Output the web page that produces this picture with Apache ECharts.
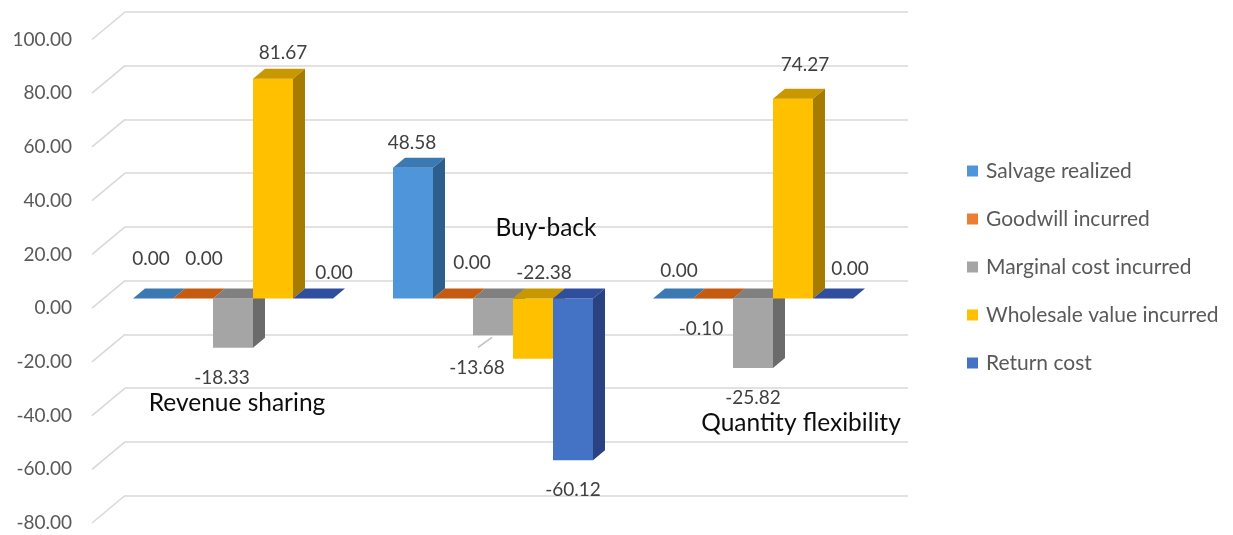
<!DOCTYPE html>
<html>
<head>
<meta charset="utf-8">
<title>Contract comparison</title>
<script src="https://cdn.jsdelivr.net/npm/echarts@6/dist/echarts.min.js"></script>
<style>
  html, body { margin: 0; padding: 0; background: #ffffff; }
  #chart { width: 1233px; height: 535px; }
</style>
</head>
<body>
<div id="chart"></div>
<script>
// ---- data ----
const categories = ['Revenue sharing', 'Buy-back', 'Quantity flexibility'];
const seriesNames = ['Salvage realized', 'Goodwill incurred', 'Marginal cost incurred', 'Wholesale value incurred', 'Return cost'];
const salvageRealized = [0.00, 48.58, 0.00];
const goodwillIncurred = [0.00, 0.00, -0.10];
const marginalCostIncurred = [-18.33, -13.68, -25.82];
const wholesaleValueIncurred = [81.67, -22.38, 74.27];
const returnCost = [0.00, -60.12, 0.00];
const yTicks = [-80, -60, -40, -20, 0, 20, 40, 60, 80, 100];

const seriesValues = [salvageRealized, goodwillIncurred, marginalCostIncurred, wholesaleValueIncurred, returnCost];

// ---- styling ----
const FONT = 'Lato, "Open Sans", sans-serif';
const faces = [
  { front: '#4E96D9', top: '#3B79B3', side: '#2E5F8C' },
  { front: '#ED7D31', top: '#C55A11', side: '#9E4A12' },
  { front: '#A5A5A5', top: '#808080', side: '#6B6B6B' },
  { front: '#FFC000', top: '#C99700', side: '#A67C00' },
  { front: '#4472C4', top: '#2F4E9E', side: '#2B4282' }
];
const BAR_SHARE = 40 / 260;   // width of one bar relative to the category band
const DEPTH_X = 0.3;          // bar depth, in bar widths
const DEPTH_Y = -0.25;
const WALL_DX = 33, WALL_DY = -27.5; // floor depth from the front plane to the back wall

// hand-placed label offsets (px) for the value labels, by category then series
const labelNudges = [
  [{ dx: -8, dy: -14 }, { dx: 5, dy: -14 }, { dx: -11, dy: 0 }, { dx: 4, dy: 0 }, { dx: 15, dy: 0 }],
  [{ dx: -7, dy: 1 }, { dx: 13, dy: -10 }, { dx: -16, dy: 3, leader: true }, { dx: 5, dy: 0, above: true }, { dx: 0, dy: 0 }],
  [{ dx: 0, dy: -2 }, { dx: -12, dy: 0 }, { dx: 0, dy: 0 }, { dx: 6, dy: -8 }, { dx: 11, dy: -4 }]
];
// category titles sit inside the plot, offset from each category centre / zero line
const categoryNudges = [{ dx: 4, dy: 105 }, { dx: 53, dy: -70 }, { dx: 48, dy: 125 }];

function barGeometry(api, cat, k, v) {
  const band = api.size([1, 0])[0];
  const w = band * BAR_SHARE;
  const base = api.coord([cat, 0]);
  const tip = api.coord([cat, v]);
  const x = base[0] - 2.5 * w + k * w;
  return {
    x, w,
    yUp: Math.min(base[1], tip[1]),
    yDn: Math.max(base[1], tip[1]),
    dx: w * DEPTH_X,
    dy: w * DEPTH_Y
  };
}

function barRenderer(k) {
  const c = faces[k];
  return function (params, api) {
    const g = barGeometry(api, api.value(0), k, api.value(1));
    const { x, w, yUp, yDn, dx, dy } = g;
    return {
      type: 'group',
      children: [
        { type: 'rect', shape: { x, y: yUp, width: w, height: yDn - yUp }, style: { fill: c.front } },
        { type: 'polygon', shape: { points: [[x, yUp], [x + w, yUp], [x + w + dx, yUp + dy], [x + dx, yUp + dy]] }, style: { fill: c.top } },
        { type: 'polygon', shape: { points: [[x + w, yUp], [x + w + dx, yUp + dy], [x + w + dx, yDn + dy], [x + w, yDn]] }, style: { fill: c.side } }
      ]
    };
  };
}

const barSeries = seriesNames.map((name, k) => ({
  name,
  type: 'custom',
  xAxisIndex: 0,
  yAxisIndex: 0,
  z: 3,
  itemStyle: { color: faces[k].front },
  encode: { x: 0, y: 1 },
  data: seriesValues[k].map((v, i) => [i, v]),
  renderItem: barRenderer(k)
}));

// value labels, one item per bar
const labelData = [];
seriesValues.forEach((vals, k) => vals.forEach((v, i) => labelData.push([i, v, k])));

const valueLabelSeries = {
  type: 'custom',
  name: 'value labels',
  xAxisIndex: 0,
  yAxisIndex: 0,
  z: 10,
  silent: true,
  encode: { x: 0, y: 1 },
  data: labelData,
  renderItem: function (params, api) {
    const cat = api.value(0), v = api.value(1), k = api.value(2);
    const g = barGeometry(api, cat, k, v);
    const n = labelNudges[cat][k] || {};
    const above = n.above !== undefined ? n.above : v >= 0;
    let lx = g.x + g.w / 2, ly;
    if (above) { lx += g.dx / 2; ly = g.yUp - 26; } else { ly = g.yDn + 30; }
    lx += n.dx || 0; ly += n.dy || 0;
    const children = [{
      type: 'text', x: lx, y: ly,
      style: { text: v.toFixed(2), align: 'center', verticalAlign: 'middle', fill: '#404040', fontSize: 19, fontFamily: FONT }
    }];
    if (n.leader) {
      children.push({
        type: 'line',
        shape: { x1: lx + 1, y1: ly - 21, x2: g.x + g.w / 2 - 1, y2: g.yDn + 2 },
        style: { stroke: '#BFBFBF', lineWidth: 1.5 }
      });
    }
    return { type: 'group', children };
  }
};

const categoryLabelSeries = {
  type: 'custom',
  name: 'category titles',
  xAxisIndex: 0,
  yAxisIndex: 0,
  z: 10,
  silent: true,
  encode: { x: 0, y: 1 },
  data: categories.map((c, i) => [i, 0]),
  renderItem: function (params, api) {
    const i = api.value(0);
    const p = api.coord([i, 0]);
    const n = categoryNudges[i];
    return {
      type: 'text', x: p[0] + n.dx, y: p[1] + n.dy,
      style: { text: categories[i], align: 'center', verticalAlign: 'middle', fill: '#0D0D0D', fontSize: 24.5, fontFamily: FONT }
    };
  }
};

// floor lines joining the axis labels to the back wall gridlines
const floorSeries = {
  type: 'custom',
  name: 'floor',
  xAxisIndex: 1,
  yAxisIndex: 1,
  z: 1,
  silent: true,
  encode: { x: 0, y: 1 },
  data: yTicks.map(t => [0, t]),
  renderItem: function (params, api) {
    const p = api.coord([0, api.value(1)]);
    const left = p[0] - api.size([1, 0])[0] / 2;
    return {
      type: 'line',
      shape: { x1: left, y1: p[1], x2: left + WALL_DX, y2: p[1] + WALL_DY },
      style: { stroke: '#D9D9D9', lineWidth: 1.6 }
    };
  }
};

const yMin = yTicks[0], yMax = yTicks[yTicks.length - 1], yStep = yTicks[1] - yTicks[0];
const hiddenX = i => ({ type: 'category', data: categories, gridIndex: i, show: false });
const baseY = i => ({
  type: 'value', gridIndex: i, min: yMin, max: yMax, interval: yStep,
  axisLine: { show: false }, axisTick: { show: false },
  axisLabel: { show: false }, splitLine: { show: false }
});

const chart = echarts.init(document.getElementById('chart'), null, { renderer: 'canvas' });
chart.setOption({
  animation: false,
  backgroundColor: '#ffffff',
  grid: [
    { left: 103, width: 780, top: 29.5, height: 484.2 },   // plane of the bar fronts
    { left: 92, width: 780, top: 39.5, height: 483.5 },    // front edge of the floor (axis labels)
    { left: 125, width: 783, top: 12, height: 483.5 }      // back wall
  ],
  xAxis: [hiddenX(0), hiddenX(1), hiddenX(2)],
  yAxis: [
    baseY(0),
    Object.assign(baseY(1), {
      axisLabel: {
        show: true, margin: 20, color: '#595959', fontSize: 19, fontFamily: FONT,
        formatter: v => v.toFixed(2)
      }
    }),
    Object.assign(baseY(2), {
      splitLine: { show: true, lineStyle: { color: '#D9D9D9', width: 1.6 } }
    })
  ],
  legend: {
    data: seriesNames,
    orient: 'vertical',
    left: 967,
    top: 159,
    padding: 0,
    icon: 'rect',
    itemWidth: 11,
    itemHeight: 11,
    itemGap: 24,
    selectedMode: false,
    textStyle: { color: '#595959', fontSize: 21, fontFamily: FONT, lineHeight: 24, padding: [0, 0, 0, 3] }
  },
  series: [floorSeries].concat(barSeries, [valueLabelSeries, categoryLabelSeries])
});
</script>
</body>
</html>
